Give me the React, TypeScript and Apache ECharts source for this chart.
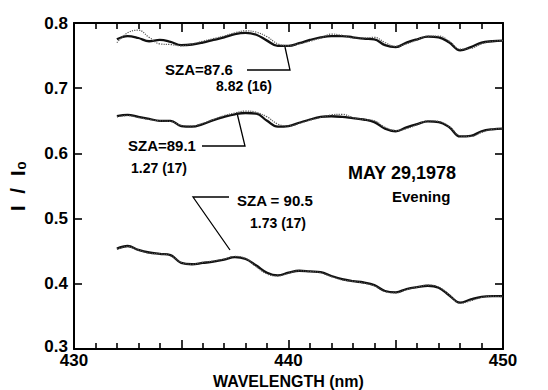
import React, { useEffect, useRef } from "react";
import * as echarts from "echarts";

const wavelengths = [
  432, 432.5, 433, 433.5, 434, 434.5, 435, 435.5, 436, 436.5, 437, 437.5, 438,
  438.5, 439, 439.5, 440, 440.5, 441, 441.5, 442, 442.5, 443, 443.5, 444, 444.5,
  445, 445.5, 446, 446.5, 447, 447.5, 448, 448.5, 449, 449.5, 450,
];

// SZA = 87.6
const sza876Solid = [
  0.775, 0.780, 0.777, 0.772, 0.774, 0.771, 0.766, 0.767, 0.770, 0.774, 0.778,
  0.783, 0.785, 0.782, 0.773, 0.765, 0.765, 0.769, 0.774, 0.778, 0.780, 0.780,
  0.778, 0.776, 0.775, 0.766, 0.763, 0.770, 0.775, 0.779, 0.778, 0.770, 0.758,
  0.763, 0.770, 0.772, 0.773,
];
const sza876Dotted = [
  0.770, 0.785, 0.789, 0.778, 0.768, 0.767, 0.765, 0.768, 0.772, 0.776, 0.780,
  0.785, 0.788, 0.786, 0.779, 0.768, 0.765, 0.768, 0.772, 0.777, 0.783, 0.781,
  0.777, 0.777, 0.778, 0.770, 0.764, 0.768, 0.774, 0.780, 0.780, 0.772, 0.760,
  0.761, 0.768, 0.772, 0.773,
];

// SZA = 89.1
const sza891Solid = [
  0.657, 0.659, 0.656, 0.653, 0.650, 0.650, 0.642, 0.641, 0.645, 0.651, 0.656,
  0.660, 0.662, 0.661, 0.650, 0.641, 0.642, 0.647, 0.652, 0.656, 0.657, 0.656,
  0.654, 0.652, 0.648, 0.638, 0.634, 0.640, 0.645, 0.649, 0.648, 0.640, 0.626,
  0.627, 0.634, 0.637, 0.638,
];
const sza891Dotted = [
  0.656, 0.658, 0.655, 0.652, 0.650, 0.649, 0.643, 0.642, 0.646, 0.652, 0.658,
  0.662, 0.665, 0.663, 0.656, 0.645, 0.642, 0.646, 0.651, 0.655, 0.659, 0.660,
  0.655, 0.652, 0.650, 0.640, 0.635, 0.638, 0.644, 0.650, 0.649, 0.641, 0.627,
  0.626, 0.632, 0.637, 0.638,
];

// SZA = 90.5
const sza905Solid = [
  0.454, 0.458, 0.452, 0.448, 0.446, 0.444, 0.432, 0.430, 0.432, 0.434, 0.437,
  0.441, 0.438, 0.428, 0.417, 0.413, 0.417, 0.420, 0.419, 0.418, 0.412, 0.407,
  0.404, 0.402, 0.398, 0.389, 0.387, 0.392, 0.395, 0.397, 0.394, 0.382, 0.371,
  0.376, 0.380, 0.381, 0.381,
];
const sza905Dotted = [
  0.453, 0.457, 0.452, 0.447, 0.446, 0.443, 0.433, 0.430, 0.433, 0.435, 0.438,
  0.442, 0.439, 0.426, 0.415, 0.412, 0.416, 0.420, 0.419, 0.417, 0.411, 0.406,
  0.404, 0.401, 0.397, 0.388, 0.386, 0.391, 0.395, 0.398, 0.395, 0.383, 0.370,
  0.374, 0.379, 0.381, 0.380,
];

const xLabels = [430, 440, 450];
const yTicks = ["0.3", "0.4", "0.5", "0.6", "0.7", "0.8"];

const FONT = "'Liberation Sans', Arial, Helvetica, sans-serif";

function pairs(vals: number[]) {
  return wavelengths.map((w, i) => [w, vals[i]]);
}

export default function App() {
  const ref = useRef<HTMLDivElement>(null);
  useEffect(() => {
    if (!ref.current) return;
    const chart = echarts.init(ref.current, undefined, { renderer: "svg" });
    const axisLineStyle = { color: "#000", width: 2 };
    const solid = (name: string, vals: number[]) => ({
      name,
      type: "line",
      data: pairs(vals),
      showSymbol: false,
      smooth: 0.4,
      lineStyle: { color: "#111", width: 2.3 },
      z: 2,
    });
    const dotted = (name: string, vals: number[]) => ({
      name,
      type: "line",
      data: pairs(vals),
      showSymbol: false,
      smooth: 0.4,
      lineStyle: { color: "#555", width: 1.2, type: "dotted" },
      z: 3,
    });
    const textStyle = (size: number) => ({
      fill: "#000",
      font: `bold ${size}px ${FONT}`,
    });
    const tickStyle = { color: "#000", width: 1.6 };
    chart.setOption({
      animation: false,
      backgroundColor: "#fff",
      grid: {
        left: 74,
        right: 45,
        top: 23,
        bottom: 41,
        show: false,
        containLabel: false,
        outerBoundsMode: "none",
      },
      xAxis: [
        {
          type: "value",
          min: 430,
          max: 450,
          interval: 5,
          position: "bottom",
          axisLine: { show: true, lineStyle: axisLineStyle },
          axisTick: { show: true, inside: true, length: 9, lineStyle: tickStyle },
          minorTick: { show: true, splitNumber: 5, length: 6, lineStyle: tickStyle },
          splitLine: { show: false },
          axisLabel: {
            margin: 3,
            color: "#000",
            fontFamily: FONT,
            fontWeight: "bold",
            fontSize: 17,
            formatter: (v: number) => (xLabels.includes(v) ? String(v) : ""),
          },
          name: "WAVELENGTH (nm)",
          nameLocation: "middle",
          nameGap: 23,
          nameTextStyle: { color: "#000", fontFamily: FONT, fontWeight: "bold", fontSize: 16 },
        },
        {
          type: "value",
          min: 430,
          max: 450,
          interval: 5,
          position: "top",
          axisLine: { show: true, lineStyle: axisLineStyle },
          axisTick: { show: true, inside: true, length: 9, lineStyle: tickStyle },
          minorTick: { show: true, splitNumber: 5, length: 6, lineStyle: tickStyle },
          splitLine: { show: false },
          axisLabel: { show: false },
        },
      ],
      yAxis: [
        {
          type: "value",
          min: 0.3,
          max: 0.8,
          interval: 0.1,
          position: "left",
          axisLine: { show: true, lineStyle: axisLineStyle },
          axisTick: { show: true, inside: true, length: 8, lineStyle: tickStyle },
          splitLine: { show: false },
          axisLabel: {
            margin: 6,
            color: "#000",
            fontFamily: FONT,
            fontWeight: "bold",
            fontSize: 17,
            formatter: (v: number) => {
              const s = v.toFixed(1);
              if (!yTicks.includes(s)) return "";
              return s === "0.3" ? "{low|" + s + "}" : s;
            },
            rich: {
              low: {
                color: "#000",
                fontFamily: FONT,
                fontWeight: "bold",
                fontSize: 17,
                padding: [0, 0, 6, 0],
              },
            },
          },
          name: "I  /  I₀",
          nameLocation: "middle",
          nameRotate: 90,
          nameGap: 46,
          nameTextStyle: { color: "#000", fontFamily: FONT, fontWeight: "bold", fontSize: 21 },
        },
        {
          type: "value",
          min: 0.3,
          max: 0.8,
          interval: 0.1,
          position: "right",
          axisLine: { show: true, lineStyle: axisLineStyle },
          axisTick: { show: true, inside: true, length: 8, lineStyle: tickStyle },
          splitLine: { show: false },
          axisLabel: { show: false },
        },
      ],
      series: [
        solid("SZA 87.6", sza876Solid),
        dotted("SZA 87.6 dotted", sza876Dotted),
        solid("SZA 89.1", sza891Solid),
        dotted("SZA 89.1 dotted", sza891Dotted),
        solid("SZA 90.5", sza905Solid),
        dotted("SZA 90.5 dotted", sza905Dotted),
      ],
      graphic: [
        { type: "text", left: 165, top: 62, style: { text: "SZA=87.6", ...textStyle(15) } },
        { type: "polyline", shape: { points: [[247, 70], [290, 70], [285, 47]] }, style: { stroke: "#000", lineWidth: 1.3, fill: null } },
        { type: "text", left: 216, top: 79, style: { text: "8.82 (16)", ...textStyle(14) } },

        { type: "text", left: 128, top: 138, style: { text: "SZA=89.1", ...textStyle(15) } },
        { type: "polyline", shape: { points: [[202, 146], [245, 146], [237, 113]] }, style: { stroke: "#000", lineWidth: 1.3, fill: null } },
        { type: "text", left: 131, top: 161, style: { text: "1.27 (17)", ...textStyle(14) } },

        { type: "polyline", shape: { points: [[229, 197], [193, 197], [230, 250]] }, style: { stroke: "#000", lineWidth: 1.3, fill: null } },
        { type: "text", left: 237, top: 193, style: { text: "SZA = 90.5", ...textStyle(15) } },
        { type: "text", left: 250, top: 216, style: { text: "1.73 (17)", ...textStyle(14) } },

        { type: "text", left: 348, top: 164, style: { text: "MAY 29,1978", ...textStyle(18) } },
        { type: "text", left: 392, top: 189, style: { text: "Evening", ...textStyle(15) } },
      ],
    });
    return () => chart.dispose();
  }, []);
  return (
    <div
      ref={ref}
      style={{ position: "fixed", left: 0, top: 0, width: 548, height: 390, background: "#fff" }}
    />
  );
}
